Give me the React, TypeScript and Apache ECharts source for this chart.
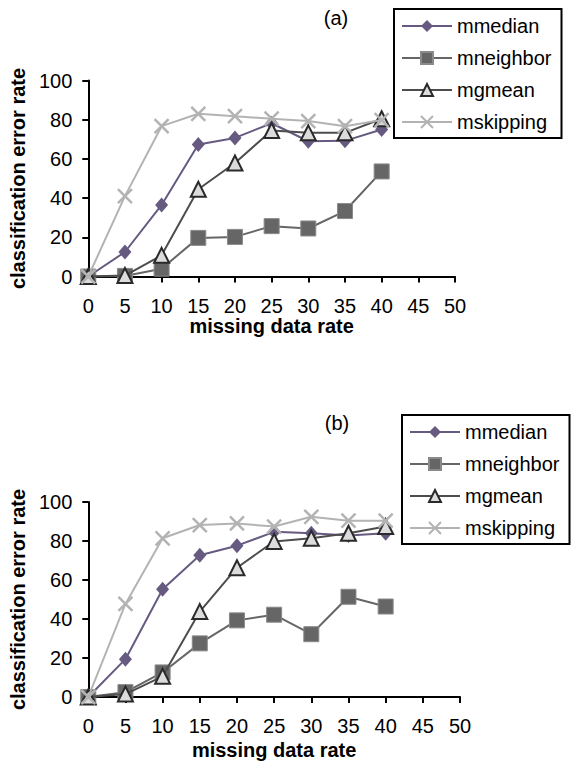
import React, { useEffect, useRef } from "react";
import * as echarts from "echarts";

const xValues = [0, 5, 10, 15, 20, 25, 30, 35, 40];
const seriesNames = ["mmedian", "mneighbor", "mgmean", "mskipping"];

const aMmedian = [0, 12.5, 36.5, 67.3, 70.7, 78.2, 69, 69.2, 75];
const aMneighbor = [0, 0.3, 4, 19.7, 20.2, 25.7, 24.5, 33.4, 53.6];
const aMgmean = [0, 0.5, 10.8, 44.5, 57.9, 74.5, 73.3, 73.3, 80.5];
const aMskipping = [0, 41, 76.7, 83, 81.8, 80.5, 79.3, 76.7, 79.8];

const bMmedian = [0, 19.4, 55.3, 72.7, 77.6, 84.7, 84, 82.8, 84];
const bMneighbor = [0, 2.5, 12.6, 27.5, 39.3, 42.2, 32.2, 51.4, 46.4];
const bMgmean = [0, 1.5, 10.6, 43.8, 66.3, 79.8, 81.4, 84, 87.4];
const bMskipping = [0, 47.7, 81.4, 88.2, 89, 87.4, 92.4, 90.4, 90.4];

const panelTitles = ["(a)", "(b)"];
const xTitle = "missing data rate";
const yTitle = "classification error rate";

const FONT = "'Liberation Sans', Arial, sans-serif";

const styles = [
  {
    symbol: "diamond",
    symbolSize: [13, 15],
    lineStyle: { color: "#675a80", width: 2 },
    itemStyle: { color: "#675a80", borderColor: "#675a80", borderWidth: 0 },
  },
  {
    symbol: "rect",
    symbolSize: 15,
    lineStyle: { color: "#666666", width: 2 },
    itemStyle: { color: "#666666", borderColor: "#8a8a8a", borderWidth: 1 },
  },
  {
    symbol: "triangle",
    symbolSize: 15,
    lineStyle: { color: "#4d4d4d", width: 2 },
    itemStyle: { color: "#dcdcdc", borderColor: "#2a2a2a", borderWidth: 2 },
  },
  {
    symbol: "path://M0,0L10,10M0,10L10,0",
    symbolSize: 14,
    lineStyle: { color: "#b3b3b3", width: 2 },
    itemStyle: { color: "#b3b3b3", borderColor: "#b3b3b3", borderWidth: 2.5 },
  },
];

function makeSeries(data: number[][], gridIndex: number) {
  return data.map((vals, i) => ({
    type: "line",
    name: seriesNames[i],
    xAxisIndex: gridIndex,
    yAxisIndex: gridIndex,
    data: xValues.map((x, k) => [x, vals[k]]),
    symbol: styles[i].symbol,
    symbolSize: styles[i].symbolSize,
    lineStyle: styles[i].lineStyle,
    itemStyle: styles[i].itemStyle,
    emphasis: { disabled: true },
    z: 2 + i,
  }));
}

export default function App() {
  const ref = useRef<HTMLDivElement>(null);
  useEffect(() => {
    const chart = echarts.init(ref.current!, null, { renderer: "svg" });
    const grids = [
      { left: 85, top: 80.5, width: 370, height: 196 },
      { left: 86, top: 502, width: 374, height: 196.5 },
    ];
    const xNameGaps = [37, 43];
    const axisLine = { lineStyle: { color: "#000", width: 2 } };
    const axisTick = { show: true, inside: false, length: 6, lineStyle: { color: "#000", width: 2 } };
    const xAxes = grids.map((_, i) => ({
      type: "value",
      gridIndex: i,
      min: 0,
      max: 50,
      interval: 5,
      axisLine,
      axisTick,
      splitLine: { show: false },
      axisLabel: { color: "#000", fontSize: 20, fontFamily: FONT, margin: 19 },
      name: xTitle,
      nameLocation: "middle",
      nameGap: xNameGaps[i],
      nameTextStyle: { color: "#000", fontSize: 20, fontWeight: "bold", fontFamily: FONT },
    }));
    const yAxes = grids.map((_, i) => ({
      type: "value",
      gridIndex: i,
      min: 0,
      max: 100,
      interval: 20,
      axisLine: { show: true, ...axisLine },
      axisTick,
      splitLine: { show: false },
      axisLabel: { color: "#000", fontSize: 20, fontFamily: FONT, margin: 16 },
      name: yTitle,
      nameLocation: "middle",
      nameGap: 50,
      nameTextStyle: { color: "#000", fontSize: 20, fontWeight: "bold", fontFamily: FONT },
    }));
    const legendBase = {
      orient: "vertical",
      borderColor: "#000",
      borderWidth: 2,
      borderRadius: 0,
      padding: [7, 10, 6, 7],
      itemWidth: 50,
      itemHeight: 15,
      itemGap: 12,
      selectedMode: false,
      data: seriesNames,
      textStyle: { color: "#000", fontSize: 20, fontFamily: FONT, lineHeight: 20 },
    };
    chart.setOption({
      animation: false,
      grid: grids,
      xAxis: xAxes,
      yAxis: yAxes,
      legend: [
        { ...legendBase, left: 394, top: 9 },
        { ...legendBase, left: 402, top: 415 },
      ],
      graphic: [
        {
          type: "text",
          x: 336,
          y: 18,
          style: { text: panelTitles[0], fontSize: 20, fontFamily: FONT, fill: "#000", textAlign: "center", textVerticalAlign: "middle" },
        },
        {
          type: "text",
          x: 337,
          y: 423,
          style: { text: panelTitles[1], fontSize: 20, fontFamily: FONT, fill: "#000", textAlign: "center", textVerticalAlign: "middle" },
        },
      ],
      series: [
        ...makeSeries([aMmedian, aMneighbor, aMgmean, aMskipping], 0),
        ...makeSeries([bMmedian, bMneighbor, bMgmean, bMskipping], 1),
      ],
    });
    return () => chart.dispose();
  }, []);
  return (
    <div
      ref={ref}
      style={{ position: "fixed", left: 0, top: 0, width: 577, height: 761, background: "#fff" }}
    />
  );
}
